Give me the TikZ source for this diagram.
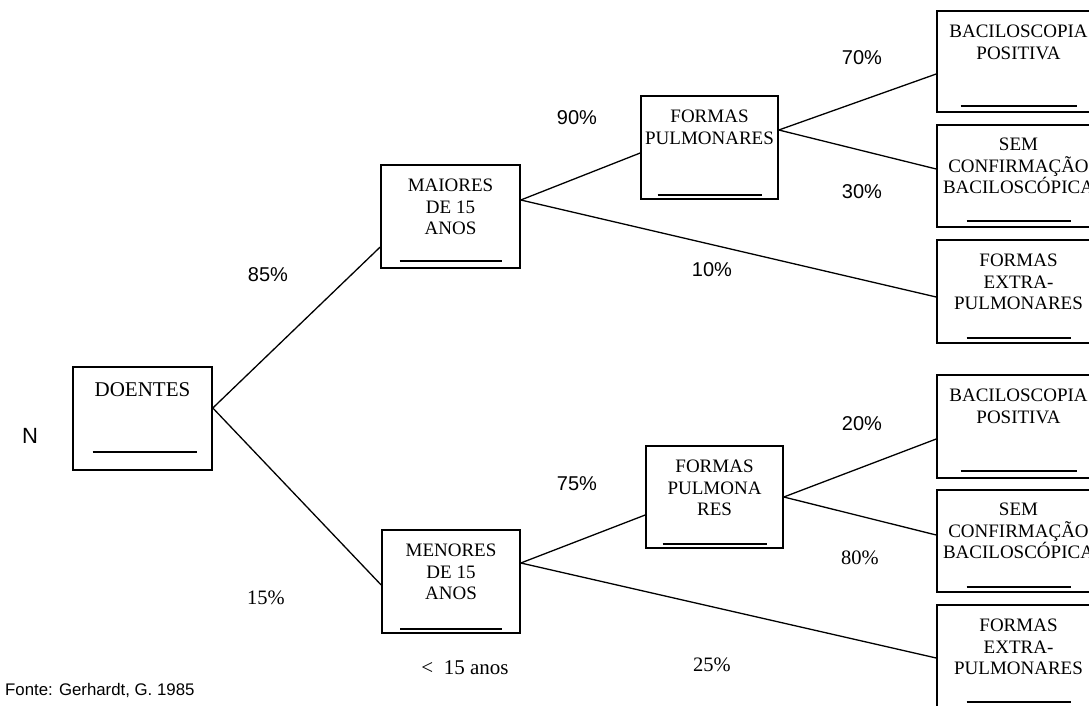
\documentclass[tikz,border=0pt]{standalone}
\usepackage{fontspec}
\setmainfont{Liberation Serif}
\newfontfamily\arialfont{Liberation Sans}
\usetikzlibrary{shadows}
\begin{document}
\begin{tikzpicture}[x=1pt,y=-1pt,
  box/.style={draw, line width=1.6pt, fill=white, rectangle, inner sep=0pt,
    drop shadow={shadow xshift=1.3pt, shadow yshift=-1.3pt, fill=black!40, opacity=1}},
  boxtext/.style={anchor=north, align=center, inner sep=0pt,
    font=\fontsize{19}{21.3}\selectfont},
  blank/.style={line width=1.6pt},
  branch/.style={line width=1.3pt},
  pct/.style={inner sep=0pt, font=\arialfont\fontsize{20}{22}\selectfont},
  pctserif/.style={inner sep=0pt, font=\fontsize{20.5}{22}\selectfont}]

\useasboundingbox (0,0) rectangle (1089,706);
\clip (0,0) rectangle (1089,706);

% ---- boxes ----
\node[box, minimum width=139pt, minimum height=103pt] (doentes) at (142.5,418.5) {};
\node[box, minimum width=139pt, minimum height=103pt] (maiores) at (450.5,216.5) {};
\node[box, minimum width=138pt, minimum height=103pt] (menores) at (451,581.5) {};
\node[box, minimum width=137pt, minimum height=103pt] (pulmA) at (709.5,147.5) {};
\node[box, minimum width=137pt, minimum height=102pt] (pulmB) at (714.5,497) {};
\node[box, minimum width=163pt, minimum height=101pt] (r1) at (1018.5,61.5) {};
\node[box, minimum width=163pt, minimum height=102pt] (r2) at (1018.5,176) {};
\node[box, minimum width=163pt, minimum height=103pt] (r3) at (1018.5,291.5) {};
\node[box, minimum width=163pt, minimum height=103pt] (r4) at (1018.5,426.5) {};
\node[box, minimum width=163pt, minimum height=102pt] (r5) at (1018.5,541) {};
\node[box, minimum width=163pt, minimum height=103pt] (r6) at (1018.5,656.5) {};

% ---- box captions ----
\node[boxtext, font=\fontsize{21}{22}\selectfont] (tdoentes) at ([yshift=-16.5pt]doentes.north) {DOENTES};
\node[boxtext] (tmaiores) at ([yshift=-15pt]maiores.north) {MAIORES\\DE 15\\ANOS};
\node[boxtext] (tmenores) at ([yshift=-15pt]menores.north) {MENORES\\DE 15\\ANOS};
\node[boxtext] (tpulmA) at ([yshift=-15pt]pulmA.north) {FORMAS\\PULMONARES};
\node[boxtext] (tpulmB) at ([yshift=-15pt]pulmB.north) {FORMAS\\PULMONA\\RES};
\node[boxtext] (tr1) at ([yshift=-15pt]r1.north) {BACILOSCOPIA\\POSITIVA};
\node[boxtext] (tr2) at ([yshift=-14pt]r2.north) {SEM\\CONFIRMAÇÃO\\BACILOSCÓPICA};
\node[boxtext] (tr3) at ([yshift=-15pt]r3.north) {FORMAS\\EXTRA-\\PULMONARES};
\node[boxtext] (tr4) at ([yshift=-15pt]r4.north) {BACILOSCOPIA\\POSITIVA};
\node[boxtext] (tr5) at ([yshift=-14pt]r5.north) {SEM\\CONFIRMAÇÃO\\BACILOSCÓPICA};
\node[boxtext] (tr6) at ([yshift=-15pt]r6.north) {FORMAS\\EXTRA-\\PULMONARES};

% ---- blanks to fill in ----
\draw[blank] ([xshift=-50pt,yshift=19pt]doentes.south) -- ([xshift=54pt,yshift=19pt]doentes.south);
\draw[blank] ([xshift=-51pt,yshift=8pt]maiores.south) -- ([xshift=51pt,yshift=8pt]maiores.south);
\draw[blank] ([xshift=-51pt,yshift=5pt]menores.south) -- ([xshift=51pt,yshift=5pt]menores.south);
\draw[blank] ([xshift=-52pt,yshift=5pt]pulmA.south) -- ([xshift=52pt,yshift=5pt]pulmA.south);
\draw[blank] ([xshift=-52pt,yshift=5pt]pulmB.south) -- ([xshift=52pt,yshift=5pt]pulmB.south);
\draw[blank] ([xshift=-58pt,yshift=7pt]r1.south) -- ([xshift=58pt,yshift=7pt]r1.south);
\draw[blank] ([xshift=-52pt,yshift=7pt]r2.south) -- ([xshift=52pt,yshift=7pt]r2.south);
\draw[blank] ([xshift=-52pt,yshift=6pt]r3.south) -- ([xshift=52pt,yshift=6pt]r3.south);
\draw[blank] ([xshift=-58pt,yshift=8pt]r4.south) -- ([xshift=58pt,yshift=8pt]r4.south);
\draw[blank] ([xshift=-52pt,yshift=6pt]r5.south) -- ([xshift=52pt,yshift=6pt]r5.south);
\draw[blank] ([xshift=-52pt,yshift=7pt]r6.south) -- ([xshift=52pt,yshift=7pt]r6.south);

% ---- branches ----
\draw[branch] ([yshift=10.5pt]doentes.east) -- ([yshift=-30.5pt]maiores.west);
\draw[branch] ([yshift=10.5pt]doentes.east) -- ([yshift=-3.5pt]menores.west);
\draw[branch] ([yshift=16.5pt]maiores.east) -- ([yshift=-5.5pt]pulmA.west);
\draw[branch] ([yshift=16.5pt]maiores.east) -- ([yshift=-5.5pt]r3.west);
\draw[branch] ([yshift=17.5pt]pulmA.east) -- ([yshift=-12.5pt]r1.west);
\draw[branch] ([yshift=17.5pt]pulmA.east) -- ([yshift=7pt]r2.west);
\draw[branch] ([yshift=18.5pt]menores.east) -- ([yshift=-18pt]pulmB.west);
\draw[branch] ([yshift=18.5pt]menores.east) -- ([yshift=-1.5pt]r6.west);
\draw[branch] (pulmB.east) -- ([yshift=-12.5pt]r4.west);
\draw[branch] (pulmB.east) -- ([yshift=6pt]r5.west);

% ---- labels ----
\node[pct, font=\arialfont\fontsize{22}{24}\selectfont] (lN) at (30,436) {N};
\node[pct] (l85) at (268,275) {85\%};
\node[pctserif] (l15) at (266,598) {15\%};
\node[pct] (l90) at (577,118) {90\%};
\node[pct] (l10) at (712,270) {10\%};
\node[pct] (l70) at (862,58) {70\%};
\node[pct] (l30) at (862,192) {30\%};
\node[pct] (l75) at (577,484) {75\%};
\node[pctserif] (l25) at (712,665) {25\%};
\node[pct] (l20) at (862,424) {20\%};
\node[pctserif] (l80) at (860,558) {80\%};
\node[pctserif, font=\fontsize{21}{22}\selectfont] (lanos) at (465,668) {<\ \ 15 anos};
\node[pct, anchor=west, font=\arialfont\fontsize{16.8}{20}\selectfont] (fonte) at (5,690) {Fonte: Gerhardt, G. 1985};
\end{tikzpicture}
\end{document}
